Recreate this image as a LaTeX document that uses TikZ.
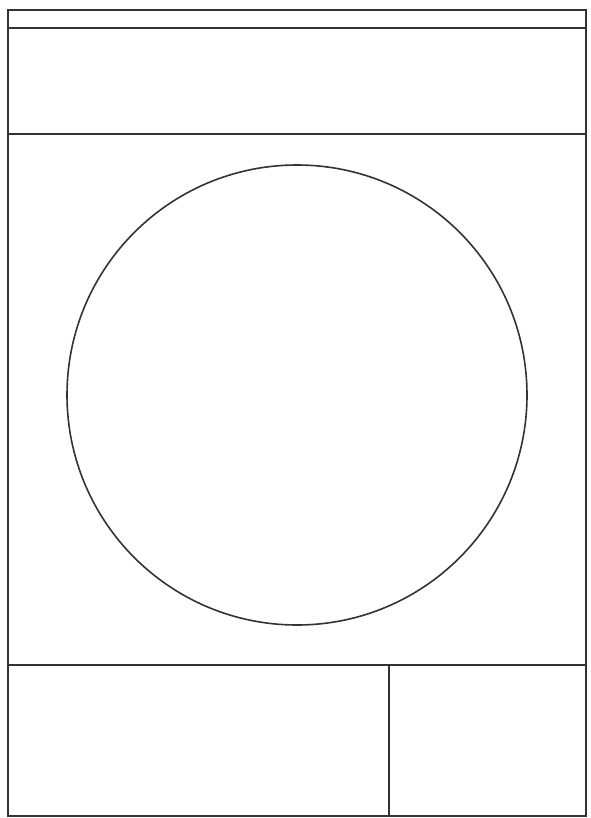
\documentclass[tikz,border=0pt]{standalone}
\begin{document}
\begin{tikzpicture}[x=1pt,y=-1pt,
  edge/.style={draw=black!80,line width=1.6pt}]
\useasboundingbox (0,0) rectangle (590,818);
\fill[white] (0,0) rectangle (590,818);
\coordinate (tl) at (8,10);
\coordinate (br) at (586,816);
\draw[edge] (tl) rectangle (br);
\coordinate (a1) at (8,28);   \coordinate (a2) at (586,28);
\coordinate (b1) at (8,134);  \coordinate (b2) at (586,134);
\coordinate (c1) at (8,665);  \coordinate (c2) at (586,665);
\coordinate (d1) at (389,665); \coordinate (d2) at (389,816);
\draw[edge] (a1) -- (a2);
\draw[edge] (b1) -- (b2);
\draw[edge] (c1) -- (c2);
\draw[edge] (d1) -- (d2);
\node[edge,circle,minimum size=460pt,inner sep=0pt] (drum) at (297,395) {};
\end{tikzpicture}
\end{document}
